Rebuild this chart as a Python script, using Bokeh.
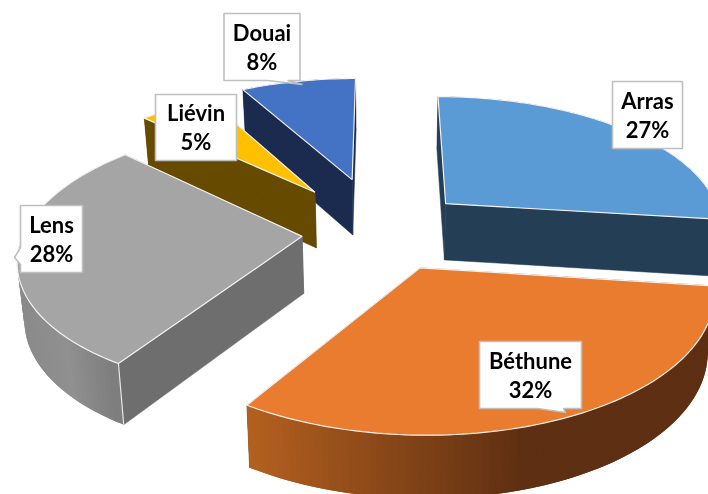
import math
from bokeh.plotting import figure
from bokeh.models import ColumnDataSource
from bokeh.core.properties import value
from bokeh.embed import file_html
from bokeh.resources import INLINE

# --- data ---
categories = ["Arras", "Béthune", "Lens", "Liévin", "Douai"]
shares = [27, 32, 28, 5, 8]
explode = [0.297, 0.297, 0.297, 0.39, 0.42]
top_colors = ["#5B9BD5", "#EA7C30", "#A5A5A5", "#FFC000", "#4472C4"]
face_colors = ["#243F55", "#5E2F12", "#6E6E6E", "#664A00", "#1A2B4F"]
draw_order = [0, 4, 3, 2, 1]

# --- projection of the pie plane (layout constants) ---
X0, Y0, SX, SY, PERSP, DEPTH = 382.0, 231.0, 278.0, 130.0, 0.15, 57.0
W, H = 708, 494
NUDGE = {"Arras": (3, -3), "Béthune": (1, 0), "Lens": (2, 0), "Liévin": (-4, -1), "Douai": (-3, -2)}


def project(u, v, name):
    w = 1 - PERSP * v
    nx, ny = NUDGE[name]
    return X0 + nx + SX * u / w, Y0 + ny + SY * v / w, w


def drop(x, y, w):
    return x + (X0 - x) * 0.02, y + DEPTH / math.sqrt(w)


def lerp(c1, c2, f):
    f = max(0.0, min(1.0, f))
    a = [int(c1[i:i + 2], 16) for i in (1, 3, 5)]
    b = [int(c2[i:i + 2], 16) for i in (1, 3, 5)]
    return "#%02x%02x%02x" % tuple(round(p + (q - p) * f) for p, q in zip(a, b))


def wall_color(idx, x):
    if categories[idx] == "Béthune":
        return lerp("#B5611F", "#5E2F12", (x - 249) / (530 - 249))
    if categories[idx] == "Lens":
        if x < 70:
            return lerp("#8A8A8A", "#909090", (x - 20) / 50)
        return lerp("#909090", "#7A7A7A", (x - 70) / 55)
    return face_colors[idx]


p = figure(width=W, height=H, x_range=(0, W), y_range=(H, 0), toolbar_location=None,
           output_backend="svg", min_border=0, outline_line_color=None)
p.axis.visible = False
p.grid.visible = False
p.background_fill_color = "white"
p.border_fill_color = "white"
p.styles = {"position": "fixed", "left": "0px", "top": "0px"}

total = sum(shares)
starts = []
acc = 0.0
for s in shares:
    starts.append(acc)
    acc += s / total * 360.0

for i in draw_order:
    name = categories[i]
    t0 = math.radians(starts[i])
    t1 = math.radians(starts[i] + shares[i] / total * 360.0)
    mid = (t0 + t1) / 2
    ou, ov = explode[i] * math.sin(mid), -explode[i] * math.cos(mid)
    n = max(6, int(shares[i] * 3))
    thetas = [t0 + (t1 - t0) * k / n for k in range(n + 1)]
    arc = [project(ou + math.sin(t), ov - math.cos(t), name) for t in thetas]
    ax, ay, aw = project(ou, ov, name)
    bx, by = drop(ax, ay, aw)
    # radial faces
    for a in (arc[0], arc[-1]):
        dx, dy = drop(*a)
        p.patch([ax, a[0], dx, bx], [ay, a[1], dy, by], fill_color=face_colors[i],
                line_color=face_colors[i], line_width=0.5)
    # outer wall: strips overlap the following one, so that no seam shows
    wall = list(zip(arc[:-1], arc[1:]))
    for k, (a, b) in enumerate(reversed(wall)):
        j = len(wall) - 1 - k
        e = arc[min(j + 2, n)]
        d1, d2 = drop(*a), drop(*e)
        c = wall_color(i, (a[0] + b[0]) / 2)
        p.patch([a[0], b[0], e[0], d2[0], d1[0]],
                [a[1], b[1], e[1], d2[1], d1[1]],
                fill_color=c, line_color=None)
    # near corner edge
    if name == "Lens":
        d = drop(*arc[0])
        p.line([arc[0][0], d[0]], [arc[0][1], d[1]], line_color="#E6E6E6", line_width=1.2)
    # top face
    xs = [ax] + [a[0] for a in arc]
    ys = [ay] + [a[1] for a in arc]
    p.patch(xs, ys, fill_color=top_colors[i], line_color="#F4F1EE", line_width=1.2)

# --- data labels (callout boxes, layout only) ---
boxes = {
    "Arras": (612, 682, 81, 148, None),
    "Béthune": (479, 581, 341, 408, [(537, 408), (565, 412), (563, 408)]),
    "Lens": (20, 82, 205, 272, [(20, 247), (14, 257), (20, 264)]),
    "Liévin": (155, 236, 94, 160, None),
    "Douai": (223.5, 299.5, 13, 80, [(267, 80), (302, 84), (287, 80)]),
}
text_x, text_y, text_s = [], [], []
for name, share in zip(categories, shares):
    x0, x1, y0, y1, tip = boxes[name]
    if tip is None:
        bxs, bys = [x0, x1, x1, x0], [y0, y0, y1, y1]
    elif tip[0][0] == x0:
        bxs = [x0, x1, x1, x0] + [t[0] for t in reversed(tip)]
        bys = [y0, y0, y1, y1] + [t[1] for t in reversed(tip)]
    else:
        bxs = [x0, x1, x1] + [t[0] for t in reversed(tip)] + [x0]
        bys = [y0, y0, y1] + [t[1] for t in reversed(tip)] + [y1]
    p.patch(bxs, bys, fill_color="white", line_color="#BFBFBF", line_width=1.6)
    cx, cy = (x0 + x1) / 2, (y0 + y1) / 2
    text_x += [cx, cx]
    text_y += [cy - 15, cy + 14]
    text_s += [name, f"{share}%"]

p.text(x="x", y="y", text="t", source=ColumnDataSource(dict(x=text_x, y=text_y, t=text_s)),
       text_font=value("Lato"), text_font_style="bold", text_font_size="22px",
       text_color="black", text_align="center", text_baseline="middle")

open("out.html", "w").write(file_html(p, INLINE))
